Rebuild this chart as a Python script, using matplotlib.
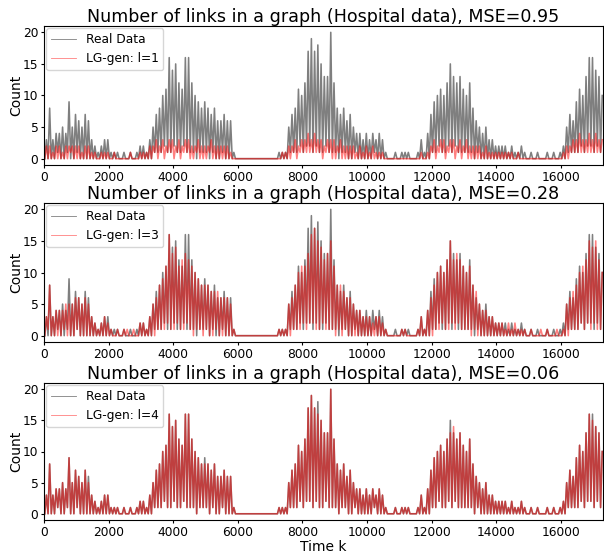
"""
Number of links per time step, hospital contact data vs LG-gen samples (l=1, 3, 4).
Series are stored per 100-step bin as (low, high) read off the figure.
"""
import numpy as np
import matplotlib
matplotlib.use("Agg")
import matplotlib.pyplot as plt

BIN = 100          # time steps per bin
T_MAX = 17300

# real data, per-bin max / min
REAL_HI = [3, 8, 3, 4, 4, 5, 4, 9, 5, 7,
           6, 5, 7, 6, 3, 2, 1, 2, 3, 3,
           1, 1, 1, 0, 1, 0, 1, 0, 1, 2,
           2, 1, 3, 5, 7, 8, 10, 11, 16, 14,
           15, 12, 11, 16, 16, 12, 10, 9, 8, 9,
           8, 7, 8, 6, 6, 7, 6, 6, 1, 0,
           0, 0, 0, 0, 0, 0, 0, 0, 0, 0,
           0, 0, 1, 1, 1, 5, 7, 8, 11, 10,
           12, 17, 19, 17, 18, 15, 13, 13, 20, 12,
           8, 7, 8, 6, 7, 5, 4, 4, 3, 4,
           3, 4, 3, 4, 3, 1, 0, 0, 1, 0,
           1, 1, 1, 0, 0, 1, 3, 1, 4, 7,
           9, 10, 11, 10, 12, 15, 13, 12, 13, 11,
           10, 12, 8, 6, 5, 4, 5, 3, 3, 2,
           2, 2, 2, 1, 2, 1, 1, 2, 1, 0,
           1, 0, 1, 0, 0, 1, 0, 1, 0, 1,
           2, 5, 7, 6, 9, 11, 10, 13, 16, 16,
           14, 13, 10]
REAL_LO = [0, 0, 0, 0, 1, 0, 0, 1, 0, 0,
           1, 0, 0, 0, 0, 0, 0, 0, 0, 0,
           0, 0, 0, 0, 0, 0, 0, 0, 0, 0,
           0, 0, 0, 0, 1, 1, 1, 2, 1, 1,
           2, 1, 1, 2, 1, 1, 1, 0, 1, 1,
           1, 0, 1, 0, 0, 1, 0, 0, 0, 0,
           0, 0, 0, 0, 0, 0, 0, 0, 0, 0,
           0, 0, 0, 0, 0, 0, 1, 1, 1, 2,
           1, 2, 2, 1, 2, 1, 1, 2, 1, 1,
           1, 0, 1, 1, 0, 0, 1, 0, 0, 0,
           0, 0, 1, 0, 0, 0, 0, 0, 0, 0,
           0, 0, 0, 0, 0, 0, 0, 0, 0, 0,
           1, 1, 2, 1, 1, 2, 1, 2, 1, 1,
           1, 1, 1, 0, 1, 0, 0, 0, 0, 0,
           0, 0, 0, 0, 0, 0, 0, 0, 0, 0,
           0, 0, 0, 0, 0, 0, 0, 0, 0, 0,
           0, 0, 1, 1, 1, 1, 2, 1, 2, 2,
           1, 2, 1]

# LG-gen l=1
GEN1_HI = [2, 2, 1, 2, 2, 1, 2, 2, 2, 2,
           2, 1, 2, 2, 1, 1, 0, 1, 1, 1,
           0, 1, 0, 0, 0, 0, 1, 0, 0, 1,
           1, 1, 2, 2, 3, 2, 3, 2, 3, 3,
           2, 3, 2, 3, 3, 2, 2, 3, 2, 2,
           2, 3, 2, 2, 2, 2, 2, 1, 0, 0,
           0, 0, 0, 0, 0, 0, 0, 0, 0, 0,
           0, 0, 0, 1, 1, 2, 2, 3, 2, 3,
           3, 4, 3, 4, 3, 3, 2, 3, 3, 3,
           2, 3, 2, 2, 2, 2, 1, 2, 1, 2,
           1, 2, 1, 1, 1, 0, 0, 0, 0, 0,
           0, 0, 0, 0, 0, 0, 1, 0, 1, 2,
           3, 2, 3, 3, 2, 3, 3, 2, 3, 2,
           3, 2, 2, 2, 2, 1, 2, 1, 1, 1,
           1, 1, 1, 1, 1, 0, 1, 0, 0, 0,
           0, 0, 0, 0, 0, 0, 0, 0, 0, 0,
           1, 2, 2, 3, 3, 4, 3, 3, 4, 3,
           4, 3, 3]
GEN1_LO = [0, 0, 0, 0, 0, 0, 0, 0, 1, 0,
           0, 0, 0, 0, 0, 0, 0, 0, 0, 0,
           0, 0, 0, 0, 0, 0, 0, 0, 0, 0,
           0, 0, 0, 0, 1, 0, 1, 0, 1, 1,
           0, 1, 0, 1, 1, 0, 0, 1, 0, 0,
           0, 1, 0, 0, 0, 0, 0, 0, 0, 0,
           0, 0, 0, 0, 0, 0, 0, 0, 0, 0,
           0, 0, 0, 0, 0, 0, 0, 1, 0, 1,
           1, 1, 1, 1, 1, 1, 0, 1, 1, 0,
           0, 1, 0, 0, 0, 0, 0, 0, 0, 0,
           0, 0, 0, 0, 0, 0, 0, 0, 0, 0,
           0, 0, 0, 0, 0, 0, 0, 0, 0, 0,
           1, 0, 1, 1, 0, 1, 1, 0, 1, 0,
           1, 0, 0, 0, 0, 0, 0, 0, 0, 0,
           0, 0, 0, 0, 0, 0, 0, 0, 0, 0,
           0, 0, 0, 0, 0, 0, 0, 0, 0, 0,
           0, 0, 0, 1, 1, 1, 1, 1, 1, 1,
           1, 1, 1]

# LG-gen l=3
GEN3_HI = [3, 8, 3, 4, 4, 4, 5, 5, 5, 6,
           6, 5, 6, 5, 3, 2, 1, 2, 3, 2,
           1, 0, 1, 0, 1, 1, 0, 1, 0, 2,
           2, 1, 3, 5, 6, 8, 9, 11, 16, 13,
           14, 11, 12, 13, 12, 11, 10, 9, 8, 8,
           8, 7, 7, 7, 6, 6, 6, 5, 1, 0,
           0, 0, 0, 0, 0, 0, 0, 0, 0, 0,
           0, 0, 1, 1, 1, 5, 6, 8, 10, 11,
           11, 13, 16, 17, 15, 14, 12, 13, 15, 11,
           8, 8, 7, 6, 6, 5, 4, 4, 3, 3,
           3, 2, 3, 3, 2, 1, 0, 0, 0, 0,
           1, 1, 0, 0, 0, 1, 3, 1, 4, 6,
           8, 10, 11, 10, 12, 15, 12, 13, 12, 11,
           10, 11, 8, 7, 5, 4, 4, 3, 3, 2,
           2, 2, 1, 2, 1, 2, 1, 1, 1, 0,
           1, 0, 0, 1, 0, 1, 0, 0, 1, 0,
           1, 5, 6, 7, 8, 10, 11, 12, 15, 14,
           15, 12, 10]
GEN3_LO = [0, 1, 0, 0, 0, 0, 1, 0, 0, 0,
           1, 0, 0, 0, 0, 0, 0, 0, 0, 0,
           0, 0, 0, 0, 0, 0, 0, 0, 0, 0,
           0, 0, 0, 0, 0, 1, 1, 1, 2, 1,
           1, 2, 1, 1, 2, 1, 0, 1, 1, 0,
           1, 0, 0, 1, 0, 0, 0, 0, 0, 0,
           0, 0, 0, 0, 0, 0, 0, 0, 0, 0,
           0, 0, 0, 0, 0, 0, 0, 1, 1, 1,
           2, 1, 2, 2, 1, 1, 2, 1, 1, 1,
           0, 1, 0, 1, 0, 0, 0, 0, 0, 0,
           0, 0, 0, 0, 0, 0, 0, 0, 0, 0,
           0, 0, 0, 0, 0, 0, 0, 0, 0, 0,
           0, 1, 1, 2, 1, 1, 2, 1, 2, 1,
           1, 1, 0, 1, 0, 0, 0, 0, 0, 0,
           0, 0, 0, 0, 0, 0, 0, 0, 0, 0,
           0, 0, 0, 0, 0, 0, 0, 0, 0, 0,
           0, 0, 0, 1, 1, 1, 2, 1, 2, 1,
           2, 1, 1]

# LG-gen l=4
GEN4_HI = [3, 8, 3, 4, 4, 5, 4, 9, 5, 7,
           6, 5, 7, 5, 3, 2, 1, 2, 3, 3,
           1, 1, 1, 0, 1, 0, 1, 0, 1, 2,
           2, 1, 3, 5, 7, 8, 10, 11, 16, 14,
           15, 12, 11, 16, 16, 12, 10, 9, 8, 8,
           8, 7, 8, 6, 6, 7, 6, 6, 1, 0,
           0, 0, 0, 0, 0, 0, 0, 0, 0, 0,
           0, 0, 1, 1, 1, 5, 7, 8, 11, 10,
           12, 17, 19, 17, 16, 15, 13, 13, 20, 12,
           8, 7, 8, 6, 7, 5, 4, 4, 3, 4,
           3, 4, 3, 4, 3, 1, 0, 0, 1, 0,
           1, 1, 1, 0, 0, 1, 3, 1, 4, 7,
           9, 10, 11, 10, 12, 13, 14, 12, 13, 11,
           10, 12, 8, 6, 5, 4, 5, 3, 3, 2,
           2, 2, 2, 1, 2, 1, 1, 2, 1, 0,
           1, 0, 1, 0, 0, 1, 0, 1, 0, 1,
           2, 5, 7, 6, 9, 11, 10, 13, 16, 15,
           14, 13, 10]
GEN4_LO = [0, 0, 0, 0, 1, 0, 0, 1, 0, 0,
           1, 0, 0, 0, 0, 0, 0, 0, 0, 0,
           0, 0, 0, 0, 0, 0, 0, 0, 0, 0,
           0, 0, 0, 0, 1, 1, 1, 2, 1, 1,
           2, 1, 1, 2, 1, 1, 1, 0, 1, 1,
           1, 0, 1, 0, 0, 1, 0, 0, 0, 0,
           0, 0, 0, 0, 0, 0, 0, 0, 0, 0,
           0, 0, 0, 0, 0, 0, 1, 1, 1, 2,
           1, 2, 2, 1, 2, 1, 1, 2, 1, 1,
           1, 0, 1, 1, 0, 0, 1, 0, 0, 0,
           0, 0, 1, 0, 0, 0, 0, 0, 0, 0,
           0, 0, 0, 0, 0, 0, 0, 0, 0, 0,
           1, 1, 2, 1, 1, 2, 1, 2, 1, 1,
           1, 1, 1, 0, 1, 0, 0, 0, 0, 0,
           0, 0, 0, 0, 0, 0, 0, 0, 0, 0,
           0, 0, 0, 0, 0, 0, 0, 0, 0, 0,
           0, 0, 1, 1, 1, 1, 2, 1, 2, 2,
           1, 2, 1]

PANELS = [("l=1", "0.95", GEN1_LO, GEN1_HI),
          ("l=3", "0.28", GEN3_LO, GEN3_HI),
          ("l=4", "0.06", GEN4_LO, GEN4_HI)]


def zigzag(lo, hi):
    # each bin drawn as low -> high stroke, mimicking the dense raw trace
    t = np.arange(len(hi)) * BIN
    x = np.column_stack([t + BIN * 0.25, t + BIN * 0.75]).ravel()
    y = np.column_stack([lo, hi]).ravel()
    return x, y


fig = plt.figure(figsize=(6.04, 5.53), dpi=100)
W, H = 604, 553
boxes = [(26, 165), (203, 342), (383, 520)]   # axes top / bottom in px

for k, ((lab, mse, lo, hi), (top, bot)) in enumerate(zip(PANELS, boxes)):
    ax = fig.add_axes([44 / W, 1 - bot / H, 559 / W, (bot - top) / H])
    ax.plot(*zigzag(REAL_LO, REAL_HI), color="k", alpha=0.5, lw=1.15, label="Real Data")
    ax.plot(*zigzag(lo, hi), color="r", alpha=0.5, lw=1.15, label=f"LG-gen: {lab}")
    ax.set_xlim(0, T_MAX)
    ax.set_yticks([0, 5, 10, 15, 20])
    ax.tick_params(labelsize=8.8, length=2, pad=2)
    ax.set_ylabel("Count", fontsize=10, labelpad=0)
    ax.set_title(f"Number of links in a graph (Hospital data), MSE={mse}", fontsize=12.6, pad=2.5)
    leg = ax.legend(loc="upper left", fontsize=8.8, borderaxespad=0.2)
    for h in leg.get_lines():
        h.set_linewidth(0.6)
    if k == 2:
        ax.set_xlabel("Time k", fontsize=10, labelpad=1)

fig.savefig("out.png", dpi=100)
